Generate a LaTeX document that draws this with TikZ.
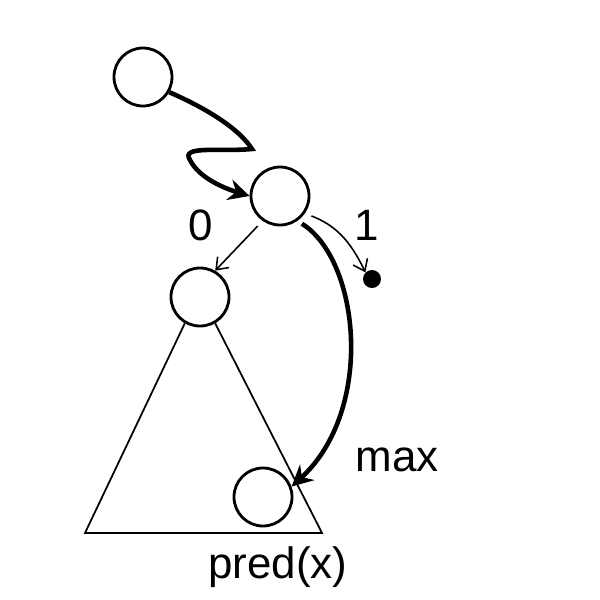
\documentclass[tikz,border=0pt]{standalone}
\usepackage{fontspec}
\setmainfont{Liberation Sans}
\usetikzlibrary{arrows.meta}
\begin{document}
\begin{tikzpicture}[x=0.02cm,y=-0.02cm,
  circ/.style={draw,circle,line width=1.6pt,minimum size=58*0.02cm,inner sep=0},
  lbl/.style={font=\fontsize{25}{28}\selectfont},
  thin/.style={-{Straight Barb[length=6pt,width=9pt]},line width=0.9pt,shorten <=4pt},
  thick/.style={-{Stealth[length=12pt,width=12pt,inset=4pt]},line width=2.6pt}]
\useasboundingbox (0,0) rectangle (600,600);
\node[circ] (a) at (143,77) {};
\node[circ] (b) at (280,196) {};
\node[circ] (c) at (200,297) {};
\node[circ] (d) at (263,497) {};
\node[circle,fill,inner sep=0,minimum size=18*0.02cm] (e) at (372,279) {};
\coordinate (tl) at (85,533);
\coordinate (tr) at (322,533);
\draw[line width=1pt] (c.240) -- (tl) -- (tr) -- (c.300);
\draw[thick] (a.-30) .. controls (210,110) and (240,130) .. (252,149)
  .. controls (220,152) and (180,145) .. (190,160)
  .. controls (200,180) and (230,190) .. (b.west);
\draw[thin] (b.235) -- (c.60);
\draw[thin] (b.-35) .. controls (335,225) and (350,240) .. (e.north west);
\draw[thick,shorten <=3pt] (b.-55) .. controls (360,260) and (375,410) .. (d.20);
\node[lbl] (l0) at (201,225) {0};
\node[lbl] (l1) at (367,225) {1};
\node[lbl] (lm) at (397,460) {max};
\node[lbl] (lp) at (278,567) {pred(x)};
\end{tikzpicture}
\end{document}
